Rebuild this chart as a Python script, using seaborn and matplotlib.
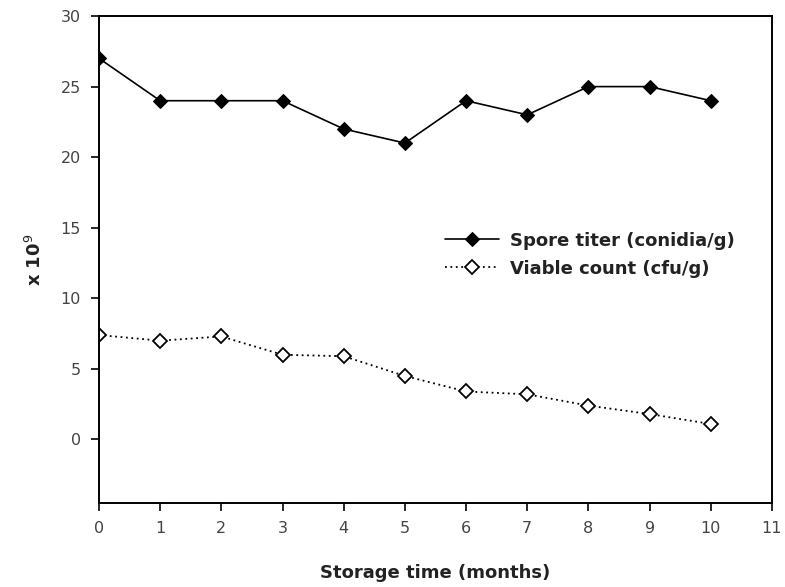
import numpy as np
import pandas as pd
import matplotlib
matplotlib.use("Agg")
import matplotlib.pyplot as plt
import seaborn as sns

months = [0, 1, 2, 3, 4, 5, 6, 7, 8, 9, 10]
spore_titer = [27, 24, 24, 24, 22, 21, 24, 23, 25, 25, 24]
viable_count = [7.4, 7.0, 7.3, 6.0, 5.9, 4.5, 3.4, 3.2, 2.4, 1.8, 1.1]
x_ticks = list(range(0, 12))
y_ticks = [0, 5, 10, 15, 20, 25, 30]

sns.set_style("ticks")
plt.rcParams["font.family"] = ["DejaVu Sans"]

df = pd.DataFrame({"month": months, "spore": spore_titer, "viable": viable_count})

fig = plt.figure(figsize=(7.85, 5.87), dpi=100)
ax = fig.add_axes([0.1261, 0.1431, 0.8573, 0.8296])

sns.lineplot(data=df, x="month", y="spore", ax=ax, color="black", linewidth=1.2,
             marker="D", markersize=7, markerfacecolor="black", markeredgecolor="black",
             label="Spore titer (conidia/g)")
sns.lineplot(data=df, x="month", y="viable", ax=ax, color="black", linewidth=1.3,
             linestyle=(0, (1, 2)), marker="D", markersize=7,
             markerfacecolor="white", markeredgecolor="black", markeredgewidth=1.3,
             label="Viable count (cfu/g)")

ax.set_xlim(0, 11)
ax.set_ylim(-4.5, 30)
ax.set_xticks(x_ticks)
ax.set_yticks(y_ticks)
for s in ax.spines.values():
    s.set_visible(True)
    s.set_linewidth(1.4)
    s.set_color("black")
ax.tick_params(direction="out", length=6, width=1.4, labelsize=11.5, labelcolor="#444444",
               pad=7)
ax.set_xlabel("Storage time (months)", fontsize=13, fontweight="bold", labelpad=20,
              color="#222222")
ax.set_ylabel(r"x 10$^{9}$", fontsize=13, fontweight="bold", labelpad=11,
              color="#222222")

leg = ax.legend(loc="center left", bbox_to_anchor=(0.49, 0.51), frameon=False,
                fontsize=13, handlelength=3.0, handletextpad=0.6, labelspacing=0.55)
for t in leg.get_texts():
    t.set_fontweight("bold")
    t.set_color("#222222")

fig.savefig("out.png", dpi=100)
